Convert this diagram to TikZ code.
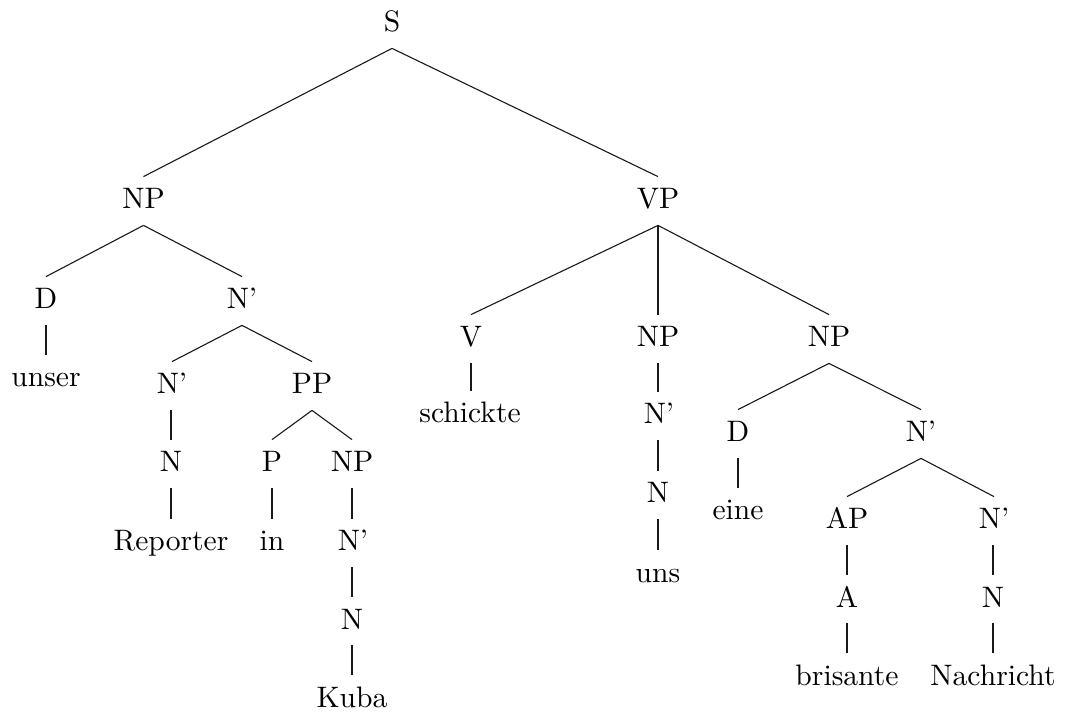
\documentclass[tikz,border=0pt]{standalone}
\usepackage{fontspec}
\setmainfont{lmroman10-regular}[Extension=.otf]
\begin{document}
\begin{tikzpicture}[x=0.5pt,y=-0.5pt,
  lbl/.style={anchor=base,font=\fontsize{14.8}{17}\selectfont,text height=10pt,text depth=2pt,inner xsep=1pt,inner ysep=6pt},
  edge/.style={line width=0.55pt,draw=black!90},
  vedge/.style={line width=1pt,draw=black!90}]
\useasboundingbox (0,0) rectangle (1081,715);
% nodes
\node[lbl] (S) at (392,32) {S};
\node[lbl] (NPa) at (143.5,209) {NP};
\node[lbl] (VP) at (658,209) {VP};
\node[lbl] (Da) at (46,309) {D};
\node[lbl] (Nba) at (242,309) {N’};
\node[lbl] (unser) at (46,387) {unser};
\node[lbl] (Nbb) at (172,394) {N’};
\node[lbl] (PP) at (312,394) {PP};
\node[lbl] (Na) at (171,472) {N};
\node[lbl] (Reporter) at (171,551) {Reporter};
\node[lbl] (P) at (272,472) {P};
\node[lbl] (NPb) at (352,472) {NP};
\node[lbl] (in) at (272,551) {in};
\node[lbl] (Nbc) at (353,551) {N’};
\node[lbl] (Nb) at (352,629) {N};
\node[lbl] (Kuba) at (352,707) {Kuba};
\node[lbl] (V) at (471,347) {V};
\node[lbl] (schickte) at (470,423) {schickte};
\node[lbl] (NPc) at (658,347) {NP};
\node[lbl] (Nbd) at (659,424) {N’};
\node[lbl] (Nc) at (658,503) {N};
\node[lbl] (uns) at (658,582) {uns};
\node[lbl] (NPd) at (829,347) {NP};
\node[lbl] (Db) at (738,442) {D};
\node[lbl] (eine) at (738,520) {eine};
\node[lbl] (Nbe) at (921,442) {N’};
\node[lbl] (AP) at (847,529) {AP};
\node[lbl] (Nbf) at (994,529) {N’};
\node[lbl] (A) at (847,607) {A};
\node[lbl] (Nd) at (993,607) {N};
\node[lbl] (brisante) at (847,685) {brisante};
\node[lbl] (Nachricht) at (993,685) {Nachricht};
% diagonal edges
\draw[edge] (S.south) -- (NPa.north);
\draw[edge] (S.south) -- (VP.north);
\draw[edge] (NPa.south) -- (Da.north);
\draw[edge] (NPa.south) -- (Nba.north);
\draw[edge] (Nba.south) -- (Nbb.north);
\draw[edge] (Nba.south) -- (PP.north);
\draw[edge] (PP.south) -- (P.north);
\draw[edge] (PP.south) -- (NPb.north);
\draw[edge] (VP.south) -- (V.north);
\draw[edge] (VP.south) -- (NPd.north);
\draw[edge] (NPd.south) -- (Db.north);
\draw[edge] (NPd.south) -- (Nbe.north);
\draw[edge] (Nbe.south) -- (AP.north);
\draw[edge] (Nbe.south) -- (Nbf.north);
% vertical edges
\draw[vedge] (Da.south) -- (Da.south |- unser.north);
\draw[vedge] (Na.north |- Nbb.south) -- (Na.north);
\draw[vedge] (Na.south) -- (Na.south |- Reporter.north);
\draw[vedge] (P.south) -- (P.south |- in.north);
\draw[vedge] (NPb.south) -- (NPb.south |- Nbc.north);
\draw[vedge] (Nb.north |- Nbc.south) -- (Nb.north);
\draw[vedge] (Nb.south) -- (Nb.south |- Kuba.north);
\draw[vedge] (VP.south) -- (VP.south |- NPc.north);
\draw[vedge] (V.south) -- (V.south |- schickte.north);
\draw[vedge] (NPc.south) -- (NPc.south |- Nbd.north);
\draw[vedge] (Nc.north |- Nbd.south) -- (Nc.north);
\draw[vedge] (Nc.south) -- (Nc.south |- uns.north);
\draw[vedge] (Db.south) -- (Db.south |- eine.north);
\draw[vedge] (AP.south) -- (AP.south |- A.north);
\draw[vedge] (A.south) -- (A.south |- brisante.north);
\draw[vedge] (Nd.north |- Nbf.south) -- (Nd.north);
\draw[vedge] (Nd.south) -- (Nd.south |- Nachricht.north);
\end{tikzpicture}
\end{document}
